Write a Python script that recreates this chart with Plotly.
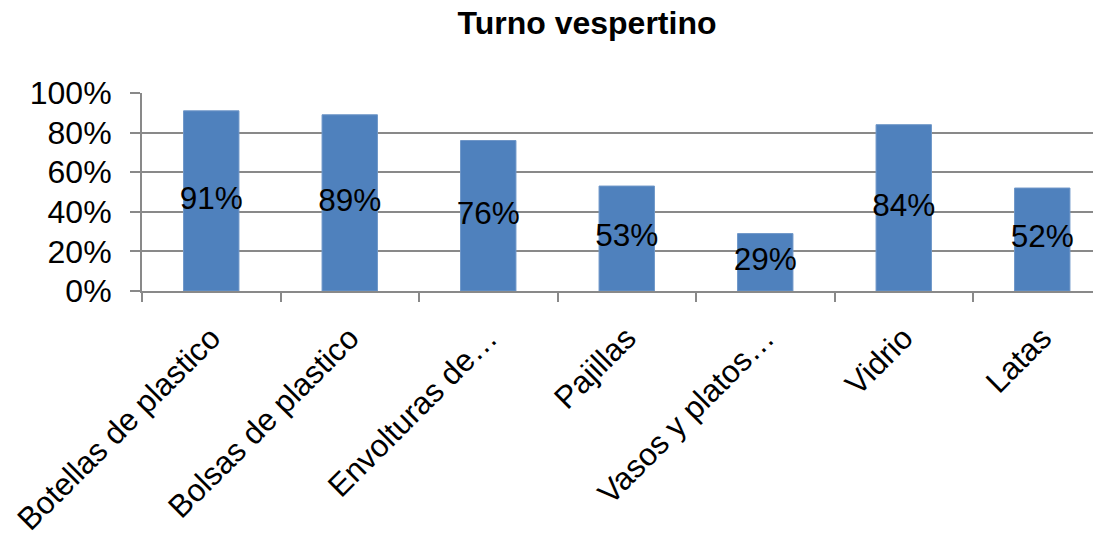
import plotly.graph_objects as go

categories = ["Botellas de plastico", "Bolsas de plastico", "Envolturas de…",
              "Pajillas", "Vasos y platos…", "Vidrio", "Latas"]
values = [0.91, 0.89, 0.76, 0.53, 0.29, 0.84, 0.52]
labels = ["91%", "89%", "76%", "53%", "29%", "84%", "52%"]
y_ticks = [0, 0.2, 0.4, 0.6, 0.8, 1.0]
y_ticklabels = ["0%", "20%", "40%", "60%", "80%", "100%"]
title = "Turno vespertino"

FONT = "Liberation Sans, Arial, sans-serif"
GRID = "#898989"

# page body has an 8px default margin; compensate
L, R, T, B = 134, 8, 85, 250
PW = 1101 - L - R
PH = 533 - T - B

fig = go.Figure()
fig.add_trace(go.Bar(
    x=categories, y=values,
    marker=dict(color="#4F81BD", line=dict(color="#6f97c8", width=1)),
    hoverinfo="skip", showlegend=False,
))
fig.add_trace(go.Scatter(
    x=categories, y=[v / 2 for v in values], text=labels,
    mode="text", textposition="middle center",
    textfont=dict(family=FONT, size=31.5, color="black"),
    cliponaxis=False, showlegend=False, hoverinfo="skip",
))

fig.update_layout(
    width=1101, height=533,
    margin=dict(l=L, r=R, t=T, b=B, autoexpand=False),
    paper_bgcolor="white", plot_bgcolor="white",
    bargap=0.6,
    font=dict(family=FONT, color="black"),
    title=dict(
        text="<b>" + title + "</b>", xref="container", yref="container",
        x=(587 - 8) / 1101, y=1 - 14.5 / 533,
        xanchor="center", yanchor="middle",
        font=dict(family=FONT, size=32, color="black"),
    ),
)
fig.update_xaxes(
    type="category", range=[-0.5, -0.5 + PW / 138.5], automargin=False,
    showgrid=False, showline=True, linecolor=GRID, linewidth=2,
    ticks="outside", ticklen=9, tickwidth=2, tickcolor=GRID,
    tickson="boundaries", tickangle=-45, ticklabelstandoff=14,
    tickfont=dict(family=FONT, size=31.5, color="black"),
)
fig.update_yaxes(
    range=[0, 1], tickvals=y_ticks, ticktext=y_ticklabels, automargin=False,
    showgrid=True, gridcolor=GRID, gridwidth=2,
    showline=True, linecolor=GRID, linewidth=2,
    ticks="outside", ticklen=10, tickwidth=2, tickcolor=GRID,
    ticklabelstandoff=12, zeroline=False,
    tickfont=dict(family=FONT, size=32, color="black"),
)

fig.write_html("out.html")
